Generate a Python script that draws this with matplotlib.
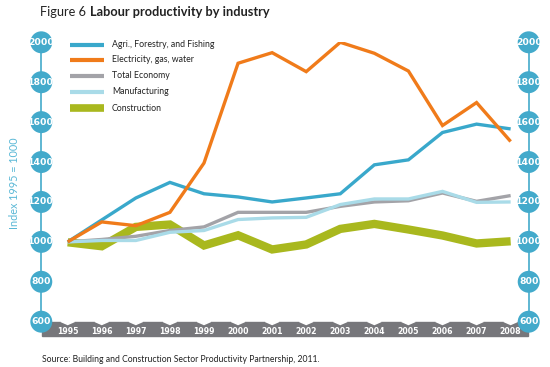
import matplotlib
matplotlib.use("Agg")
import matplotlib.pyplot as plt
from matplotlib.patches import Polygon

years = list(range(1995, 2009))
agri = [1000, 1110, 1220, 1298, 1241, 1225, 1200, 1220, 1241, 1386, 1411, 1548, 1590, 1566]
elec = [1000, 1100, 1081, 1148, 1395, 1895, 1948, 1853, 2000, 1945, 1856, 1583, 1698, 1503]
total = [1000, 1012, 1028, 1057, 1075, 1148, 1148, 1148, 1178, 1200, 1206, 1245, 1203, 1232]
manuf = [1000, 1007, 1007, 1048, 1057, 1112, 1120, 1123, 1187, 1215, 1215, 1253, 1198, 1200]
constr = [998, 978, 1075, 1087, 982, 1033, 962, 987, 1065, 1090, 1062, 1032, 992, 1003]
series_names = ["Agri., Forestry, and Fishing", "Electricity, gas, water",
                "Total Economy", "Manufacturing", "Construction"]
yticks = [600, 800, 1000, 1200, 1400, 1600, 1800, 2000]

plt.rcParams['font.family'] = ['Lato', 'DejaVu Sans']

BLUE = '#43aacb'
colors = ['#39a8cb', '#f07b1a', '#a3a3a8', '#a9dbe8', '#a9b81e']
widths = [2.4, 2.4, 2.4, 2.4, 6.0]

fig = plt.figure(figsize=(5.5, 3.67), dpi=100)
ax = fig.add_axes([41.3/550, 1-321.7/367, (528.7-41.3)/550, (321.7-42.3)/367])
ax.set_xlim(1994.225, 2008.53)
ax.set_ylim(600, 2000)
ax.axis('off')

data = [agri, elec, total, manuf, constr]
zs = {4: 3, 2: 4, 3: 5, 0: 6, 1: 7}
for i in [3, 2, 4, 0, 1]:
    ax.plot(years, data[i], color=colors[i], lw=widths[i], zorder=zs[i],
            solid_joinstyle='miter', solid_capstyle='butt')

# axis lines
for xv in (1994.225, 2008.53):
    ax.plot([xv, xv], [600, 2000], color=BLUE, lw=1.2, clip_on=False, zorder=8)
    ax.scatter([xv]*len(yticks), yticks, s=250, color=BLUE, zorder=9, clip_on=False,
               edgecolors='none')
    for t in yticks:
        ax.text(xv, t, str(t), ha='center', va='center', color='white',
                fontsize=6.7, fontweight='bold', zorder=10, family=['DejaVu Sans'])

# x band
band = Polygon([[1994.26, 600], [2008.5, 600], [2008.5, 527], [1994.26, 527]],
               closed=True, color='#77777b', clip_on=False, zorder=2)
ax.add_patch(band)
for y in years:
    notch = Polygon([[y-0.2, 601], [y+0.2, 601], [y, 586]], closed=True,
                    color='white', clip_on=False, zorder=2.5)
    ax.add_patch(notch)
    ax.text(y, 553, str(y), ha='center', va='center', color='white', fontsize=5.6,
            fontweight='bold', clip_on=False, zorder=3, family=['DejaVu Sans'])

# legend
leg_y = [44.7, 60.0, 75.7, 91.7, 108.3]
for i in range(5):
    yf = 1 - leg_y[i]/367
    fig.add_artist(plt.Line2D([70/550, 104/550], [yf, yf], color=colors[i],
                              lw=3 if i != 4 else 5.5, transform=fig.transFigure,
                              solid_capstyle='butt'))
    fig.text(112/550, yf, series_names[i], ha='left', va='center', fontsize=6.3,
             color='#222222')

fig.text(40/550, 1-12/367, "Figure 6 ", ha='left', va='center', fontsize=9.2, color='#222222')
fig.text(90/550, 1-12/367, "Labour productivity by industry", ha='left', va='center',
         fontsize=9.2, fontweight='bold', color='#222222')
fig.text(15/550, 1-183/367, "Index 1995 = 1000", rotation=90, ha='center', va='center',
         fontsize=7.8, color='#5ab8d6')
fig.text(42/550, 1-360/367, "Source: Building and Construction Sector Productivity Partnership, 2011.",
         ha='left', va='center', fontsize=6.2, color='#222222')

fig.savefig('out.png', dpi=100, facecolor='white')
